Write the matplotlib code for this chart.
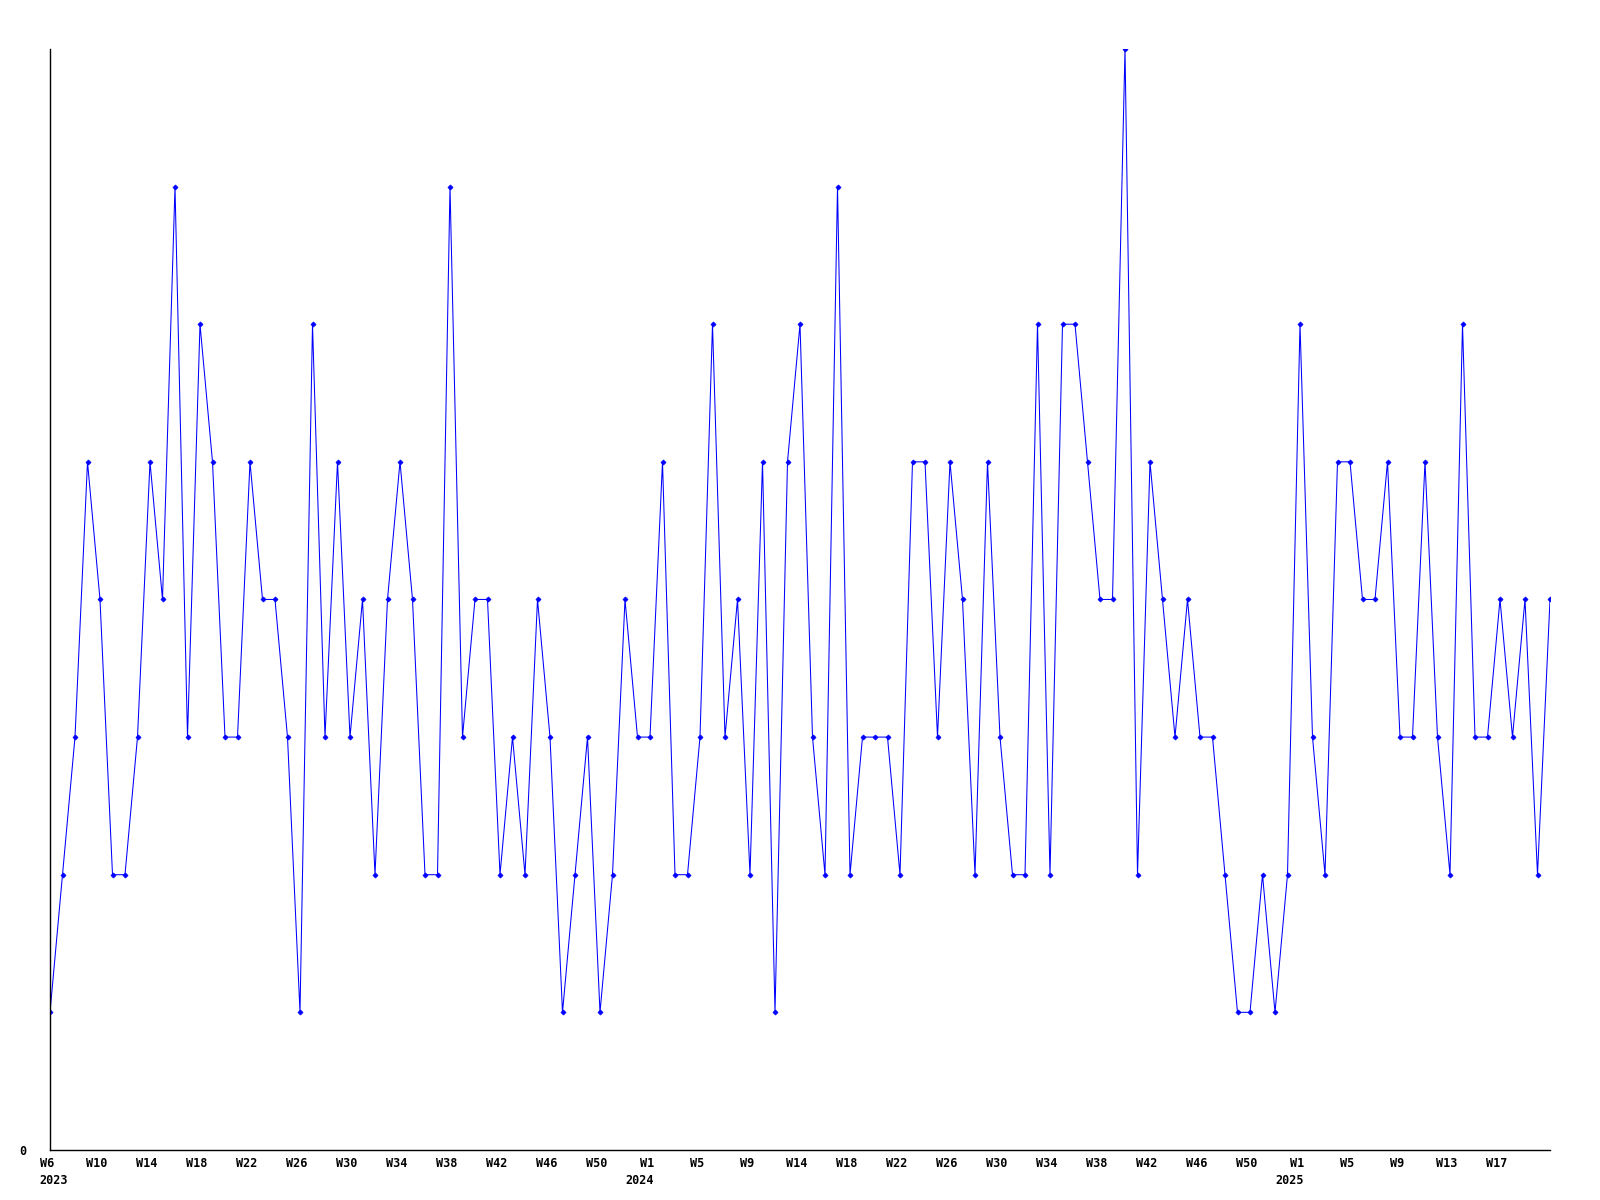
import matplotlib
matplotlib.use('Agg')
from matplotlib import pyplot as plt
from matplotlib import transforms
import numpy as np

# weekly counts, 2023 W6 .. 2025 W21
values = [1, 2, 3, 5, 4, 2, 2, 3, 5, 4,
          7, 3, 6, 5, 3, 3, 5, 4, 4, 3,
          1, 6, 3, 5, 3, 4, 2, 4, 5, 4,
          2, 2, 7, 3, 4, 4, 2, 3, 2, 4,
          3, 1, 2, 3, 1, 2, 4, 3, 3, 5,
          2, 2, 3, 6, 3, 4, 2, 5, 1, 5,
          6, 3, 2, 7, 2, 3, 3, 3, 2, 5,
          5, 3, 5, 4, 2, 5, 3, 2, 2, 6,
          2, 6, 6, 5, 4, 4, 8, 2, 5, 4,
          3, 4, 3, 3, 2, 1, 1, 2, 1, 2,
          6, 3, 2, 5, 5, 4, 4, 5, 3, 3,
          5, 3, 2, 6, 3, 3, 4, 3, 4, 2,
          4]

tick_labels = ['W6', 'W10', 'W14', 'W18', 'W22', 'W26', 'W30', 'W34',
               'W38', 'W42', 'W46', 'W50',
               'W1', 'W5', 'W9', 'W14', 'W18', 'W22', 'W26', 'W30', 'W34',
               'W38', 'W42', 'W46', 'W50',
               'W1', 'W5', 'W9', 'W13', 'W17']
year_labels = ['2023', '2024', '2025']
year_ticks = [0, 12, 25]   # index into tick_labels

FONT = 'DejaVu Sans Mono'


def weekly_graph():
    fig = plt.figure(figsize=(16, 12), dpi=100)
    ax = fig.add_axes([0.03125, 0.0417, 0.9375, 0.9175])

    x = np.arange(len(values))
    ax.plot(x, values, color='#0000ff', linewidth=0.75,
            marker='D', markersize=2.6, markeredgewidth=0.5)

    ax.set_xlim(0, len(values) - 1)
    ax.set_ylim(0, max(values))

    # spines: only left + bottom
    ax.spines['top'].set_visible(False)
    ax.spines['right'].set_visible(False)
    ax.spines['left'].set_linewidth(1.0)
    ax.spines['bottom'].set_linewidth(1.0)

    ticks = np.arange(len(tick_labels)) * 4
    ax.set_xticks(ticks)
    ax.set_xticklabels(tick_labels, fontfamily=FONT, fontweight='bold', fontsize=8.5)
    ax.set_yticks([0])
    ax.set_yticklabels(['0'], fontfamily=FONT, fontweight='bold', fontsize=8.5)
    ax.tick_params(axis='x', length=0, pad=5)
    ax.tick_params(axis='y', length=0, pad=17)

    # nudge week labels a few pixels left
    shift = transforms.ScaledTranslation(-3 / 100.0, 0, fig.dpi_scale_trans)
    for lbl in ax.get_xticklabels():
        lbl.set_transform(lbl.get_transform() + shift)

    # year under the first week of each year
    for i, yr in zip(year_ticks, year_labels):
        if i == 0:
            ax.annotate(yr, xy=(ticks[i], 0), xycoords=('data', 'axes fraction'),
                        xytext=(-8, -17), textcoords='offset points',
                        ha='left', va='top', fontfamily=FONT,
                        fontweight='bold', fontsize=8.5)
        else:
            ax.annotate(yr, xy=(ticks[i], 0), xycoords=('data', 'axes fraction'),
                        xytext=(3, -17), textcoords='offset points',
                        ha='right', va='top', fontfamily=FONT,
                        fontweight='bold', fontsize=8.5)

    plt.savefig('out.png', dpi=100)


if __name__ == '__main__':
    weekly_graph()
